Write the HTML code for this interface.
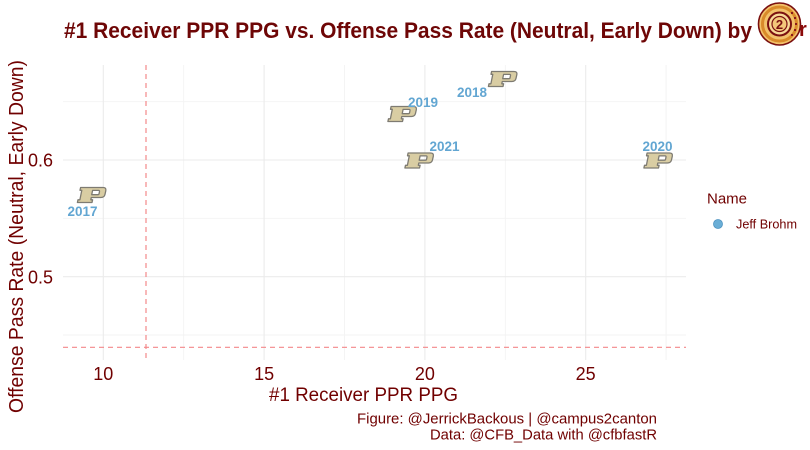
<!DOCTYPE html>
<html>
<head>
<meta charset="utf-8">
<style>
  html, body { margin:0; padding:0; background:#ffffff; }
  svg { display:block; }
  text { font-family: "Liberation Sans", sans-serif; }
</style>
</head>
<body>
<svg width="810" height="450" viewBox="0 0 810 450" xmlns="http://www.w3.org/2000/svg">
  <defs>
    <g id="plogo">
      <path d="M7,0.5 H27 Q30.5,0.5 29.8,3.8 L29,7.4 Q28.3,10.5 25,10.5 H15.3 L14.8,12.8 H16.6 L16,15.5 H1.4 L2,12.8 H3.9 L5.8,3.3 H4 L4.6,0.5 Z M16.6,3.4 H22.6 Q23.7,3.4 23.5,4.5 L23.1,6.6 Q22.9,7.7 21.8,7.7 H15.7 Z"
            fill="#d9cda3" fill-rule="evenodd" stroke="#7e7b72" stroke-width="1.3" stroke-linejoin="round"/>
    </g>
  </defs>

  <rect x="0" y="0" width="810" height="450" fill="#ffffff"/>

  <!-- minor gridlines -->
  <g stroke="#f3f3f3" stroke-width="0.9">
    <line x1="183.7" y1="65" x2="183.7" y2="360"/>
    <line x1="344.5" y1="65" x2="344.5" y2="360"/>
    <line x1="505.3" y1="65" x2="505.3" y2="360"/>
    <line x1="666.1" y1="65" x2="666.1" y2="360"/>
    <line x1="63" y1="101.7" x2="686" y2="101.7"/>
    <line x1="63" y1="218.3" x2="686" y2="218.3"/>
    <line x1="63" y1="335" x2="686" y2="335"/>
  </g>
  <!-- major gridlines -->
  <g stroke="#ebebeb" stroke-width="1.1">
    <line x1="103.3" y1="65" x2="103.3" y2="360"/>
    <line x1="264.1" y1="65" x2="264.1" y2="360"/>
    <line x1="424.9" y1="65" x2="424.9" y2="360"/>
    <line x1="585.7" y1="65" x2="585.7" y2="360"/>
    <line x1="63" y1="160" x2="686" y2="160"/>
    <line x1="63" y1="276.7" x2="686" y2="276.7"/>
  </g>

  <!-- reference dashed lines -->
  <g stroke="#f4888a" stroke-width="1.2" stroke-dasharray="5,4" fill="none">
    <line x1="146" y1="65" x2="146" y2="360"/>
    <line x1="63" y1="347.3" x2="686" y2="347.3"/>
  </g>

  <!-- points (logos) -->
  <use href="#plogo" transform="translate(76,187)"/>
  <use href="#plogo" transform="translate(487,71)"/>
  <use href="#plogo" transform="translate(386.5,106)"/>
  <use href="#plogo" transform="translate(403.5,152.5)"/>
  <use href="#plogo" transform="translate(642.5,152.5)"/>

  <!-- year labels -->
  <g fill="#62a6d2" font-weight="bold" font-size="13.5" text-anchor="middle">
    <text x="82.5" y="216">2017</text>
    <text x="472" y="97">2018</text>
    <text x="423" y="107">2019</text>
    <text x="444.5" y="151">2021</text>
    <text x="657.5" y="151">2020</text>
  </g>

  <!-- y tick labels -->
  <g fill="#700000" font-size="18" text-anchor="end">
    <text x="53" y="166.5">0.6</text>
    <text x="53" y="283.5">0.5</text>
  </g>

  <!-- x tick labels -->
  <g fill="#700000" font-size="18" text-anchor="middle">
    <text x="103.3" y="380">10</text>
    <text x="264.1" y="380">15</text>
    <text x="424.9" y="380">20</text>
    <text x="585.7" y="380">25</text>
  </g>

  <!-- axis titles -->
  <text x="269" y="401" fill="#700000" font-size="19.5" textLength="189" lengthAdjust="spacingAndGlyphs">#1 Receiver PPR PPG</text>
  <text transform="translate(23,236.5) rotate(-90)" x="0" y="0" fill="#700000" font-size="20" text-anchor="middle" textLength="353" lengthAdjust="spacingAndGlyphs">Offense Pass Rate (Neutral, Early Down)</text>

  <!-- title -->
  <text x="64" y="38" fill="#6e0606" font-size="22" font-weight="bold" textLength="688" lengthAdjust="spacingAndGlyphs">#1 Receiver PPR PPG vs. Offense Pass Rate (Neutral, Early Down) by</text>
  <text x="799" y="36" fill="#8b0a0a" font-size="20" font-weight="bold">r</text>

  <!-- logo circle -->
  <g>
    <circle cx="779.5" cy="24" r="21" fill="#f2c16a" stroke="#7a1010" stroke-width="1.6"/>
    <circle cx="779.5" cy="24" r="17" fill="none" stroke="#d98a2a" stroke-width="3"/>
    <circle cx="779.5" cy="24" r="11.5" fill="#f7d998" stroke="#7a1010" stroke-width="2"/>
    <circle cx="779.5" cy="24" r="7.5" fill="#f3c77a" stroke="#7a1010" stroke-width="1.2"/>
    <text x="779.5" y="29" fill="#7a1010" font-size="13" font-weight="bold" text-anchor="middle">2</text>
    <g fill="#8b1a1a">
      <rect x="791" y="12" width="2" height="2"/>
      <rect x="794" y="17" width="2" height="2"/>
      <rect x="795" y="23" width="2" height="2"/>
      <rect x="794" y="29" width="2" height="2"/>
      <rect x="791" y="34" width="2" height="2"/>
    </g>
  </g>

  <!-- legend -->
  <text x="707" y="203.5" fill="#700000" font-size="15">Name</text>
  <circle cx="718" cy="224" r="4.5" fill="#6aaed6" stroke="#4d92c0" stroke-width="0.8"/>
  <text x="736" y="228.5" fill="#700000" font-size="12.5" textLength="61" lengthAdjust="spacingAndGlyphs">Jeff Brohm</text>

  <!-- caption -->
  <g fill="#700000" font-size="14.5" text-anchor="end">
    <text x="657" y="423.5" textLength="300" lengthAdjust="spacingAndGlyphs">Figure: @JerrickBackous | @campus2canton</text>
    <text x="657" y="439.5" textLength="227" lengthAdjust="spacingAndGlyphs">Data: @CFB_Data with @cfbfastR</text>
  </g>
</svg>
</body>
</html>
